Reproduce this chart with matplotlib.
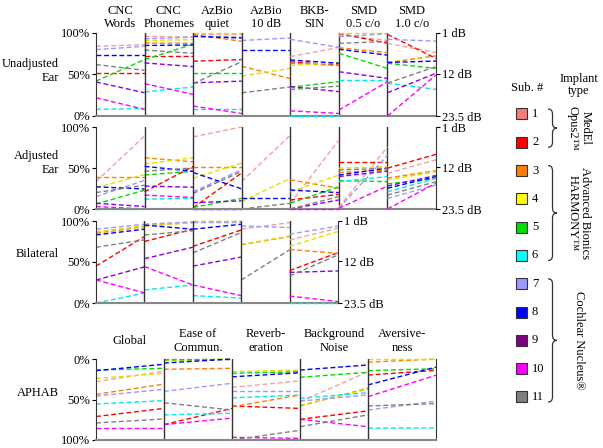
import matplotlib.pyplot as plt
import numpy as np
from matplotlib.path import Path
from matplotlib.patches import PathPatch, Rectangle

plt.rcParams['font.family'] = ['Liberation Serif', 'DejaVu Serif']
plt.rcParams['font.size'] = 9

N = np.nan
W, H = 603, 448
FS = 9

# subject colours (1..11)
line_colors = ['#F4A0A0', '#FF0000', '#FF8000', '#E0E000', '#00DD00', '#00E8E8',
               '#9999FF', '#0000FF', '#8A00E6', '#FF00FF', '#808080']
box_colors = ['#F47C7C', '#FF0000', '#FF8000', '#FFFF00', '#00DD00', '#00FFFF',
              '#9999FF', '#0000FF', '#800080', '#FF00FF', '#808080']
subjects = [str(i) for i in range(1, 12)]

speech_tests = ['CNC\nWords', 'CNC\nPhonemes', 'AzBio\nquiet', 'AzBio\n10 dB',
                'BKB-\nSIN', 'SMD\n0.5 c/o', 'SMD\n1.0 c/o']
aphab_tests = ['Global', 'Ease of\nCommun.', 'Reverb-\neration', 'Background\nNoise', 'Aversive-\nness']
implants = ['MedEl\nOpus2\u2122', 'Advanced Bionics\nHARMONY\u2122', 'Cochlear Nucleus\u00ae']
implant_groups = [(1, 2), (3, 6), (7, 11)]

# values per test (rows) and subject (columns 1..11); % for first 4 tests, dB for BKB-SIN / SMD
unadj_pre = [
    [84, 52, N, N, 42, 8, 80, 73.5, 41, 22, 62],
    [96, 72, 88, 91, 68, 29, 93, 85, 64, 39, 79.5],
    [99, 66, 98, 100, 52, 9, 96, 96, 40, 12, 39],
    [N, N, 60, 48, N, N, 91, 79, N, N, 28],
    [7.4, 8.8, 9.2, 9.8, 15.7, 23.5, 2.7, 8.3, 15.5, 22.1, 16.3],
    [1.5, 1.1, 5.0, 1.0, 6.5, 13.7, 2.0, 5.4, 11.5, 21.9, 3.8],
    [3.8, 1.35, 9.0, N, 9.2, 14.6, 2.7, 9.0, 17.2, 23.5, 14.6],
]
unadj_post = [
    [86, 52, N, N, 68, 9, 84, 73.5, 28, 8, 55],
    [95, 72, 87.5, 92, 86.5, 35, 95, 85.5, 59.5, 26, 75.5],
    [99, 68, 90, 100, 52, 9, 95, 94, 42, 3, 65.5],
    [N, N, 45, 57.5, N, N, 94, 79, N, N, 35],
    [4.9, 9.7, 9.8, 9.0, 14.2, 23.5, 4.9, 9.2, 16.9, 22.8, 15.4],
    [3.0, 3.8, 6.3, 1.0, 10.6, 13.7, 1.2, 7.0, 13.3, 14.2, 3.3],
    [6.3, 7.9, 7.2, N, 10.6, 16.3, 3.2, 8.6, 11.9, 12.4, 10.1],
]

adj_pre = [
    [33.5, N, 39.5, 26, 6, 0, 15, 27, 7, 3, 20],
    [N, 21, 62.5, 55, 41.5, 12, N, 52, 28, 17, 46],
    [88, 1.5, 51, 37.5, 2, 0, 21, 44.5, 7.7, 0, 19],
    [33.5, N, N, 9, N, N, N, 13, N, N, 0],
    [22, 21, 15.5, 18.8, 21.9, N, N, 18.3, 23.5, 23.5, 23.5],
    [23, 10.7, 13.5, 12.3, 15.7, 16, 23.3, 14.2, 14.6, 23.3, 12.8],
    [13.7, 12.3, 15, 15.5, 16.6, 18.8, 20.6, 17.8, 17.2, 23.5, 19.7],
]
adj_post = [
    [89, N, 39.5, 42, 23, 0, 35, 24.4, 3, 0, 29],
    [N, 52, 57.5, 62.5, 46, 13, N, 46, 26.5, 14, 50],
    [100, 44, 51, 56, 13, 0, 48, 24.5, 10, 0, 46],
    [90, N, N, 37.5, N, N, N, 13, N, N, 7],
    [4.6, 19.5, 17.8, 14.2, 17.4, N, N, 19, 21, 23.5, 20.1],
    [6.5, 10.7, 12.8, 11.9, 16.0, 14.6, 8.8, 12.3, 13.1, 17.2, 12.3],
    [10, 8.5, 13, 13.3, 15.1, 15.1, 16.9, 14.6, 14.3, 16.4, 16],
]

bilat_pre = [
    [N, 45, 85, 87, N, 0, 90, 83, 28, 28, 68],
    [N, 75, 94, 94, N, 16, 96, 95, 54, 44.5, 83],
    [N, 69, 100, 100, N, 9, 99, 90, 45, 22, 61],
    [90, N, 71, 71.5, N, N, 94, N, N, N, 28],
    [6.2, 14.6, 8.8, 7.9, N, 23.5, 4.6, N, 15.1, 21.6, 16.1],
]
bilat_post = [
    [N, 81, 93, 94, N, 12, 96, 90, 44, 12.5, 77],
    [N, 90, 98, 98, N, 22, 99, 90, 68, 22, 88],
    [N, 89, 100, 100, N, 6, 99, 96, 56, 9, 86],
    [98, N, 81, 81.5, N, N, 92, N, N, N, 65],
    [3.0, 9.7, 9.9, 3.9, N, 23.5, 2.4, N, 14.7, 23.1, 10.3],
]

aphab_pre = [
    [28, 71, 43.6, 24, 13.6, 55.6, 45.7, 14.4, N, 85, 79],
    [0, 81, 12.7, 2, 1, 69, 40, 5, N, 81, 54],
    [35, 58, 59, 15.6, 17.7, 48, 39.5, 22, N, 96.7, 100],
    [52.7, 74.5, 58, 57, 22.6, 48.5, 52, 13.6, N, 74.5, 83.6],
    [N, 19.8, 4, 0, 14.4, 85.5, 63, 32, N, 46.5, 58],
]
aphab_post = [
    [15, 61, 31, 17.7, 11.5, 51.4, 37.4, 6.5, N, 85, 74],
    [0, 61, 11.5, 1, 0.5, 67, 30, 0, N, 73, 63],
    [27, 61, 44.5, 13.6, 15.6, 44.5, 39.5, 17, N, 98, 88],
    [15.7, 64, 36, 37.4, 16.4, 41.6, 44.4, 7.4, N, 83.6, 69],
    [N, 14, 0, 0, 12, 85, 52, 10, N, 20, 55],
]

fig = plt.figure(figsize=(W / 100, H / 100), dpi=100)


def px_axes(x0, y0, x1, y1):
    return fig.add_axes([x0 / W, 1 - y1 / H, (x1 - x0) / W, (y1 - y0) / H])


def draw_panel(ax, pre, post, db_cols, invert=False):
    ncols = len(pre)
    ax.set_xlim(0, ncols)
    if invert:
        ax.set_ylim(100, 0)
    else:
        ax.set_ylim(0, 100)
    ax.patch.set_alpha(0)
    ax2 = None
    if db_cols:
        ax2 = ax.twinx()
        ax2.set_ylim(23.5, 1)
        for sp in ['top', 'left', 'bottom']:
            ax2.spines[sp].set_visible(False)
        ax2.spines['right'].set_color('#333333')
        ax2.set_yticks([1, 12, 23.5])
        ax2.set_yticklabels(['1 dB', '12 dB', '23.5 dB'])
        ax2.tick_params(axis='y', length=3, pad=1, labelsize=FS)
        ax.spines['right'].set_visible(False)
    else:
        ax.spines['right'].set_color('#333333')
    for c in range(ncols):
        target = ax2 if c in db_cols else ax
        for s in range(len(subjects)):
            a, b = pre[c][s], post[c][s]
            if np.isnan(a) or np.isnan(b):
                continue
            target.plot([c, c + 1], [a, b], color=line_colors[s], lw=1.0,
                        ls=(0, (3.5, 2)), clip_on=False)
    for c in range(1, ncols):
        ax.axvline(c, color='#333333', lw=1)
    ax.spines['top'].set_visible(False)
    ax.spines['left'].set_color('#333333')
    ax.spines['bottom'].set_color('#888888')
    ax.spines['bottom'].set_linewidth(1.5)
    ax.set_xticks([])
    ax.set_yticks([0, 50, 100])
    ax.set_yticklabels(['0%', '50%', '100%'])
    ax.tick_params(axis='y', length=3, pad=1, labelsize=FS)
    return ax2


ax1 = px_axes(96, 33, 436, 116)
draw_panel(ax1, unadj_pre, unadj_post, [4, 5, 6])
ax2 = px_axes(96, 127, 436, 209)
draw_panel(ax2, adj_pre, adj_post, [4, 5, 6])
ax3 = px_axes(96, 221, 338, 303)
draw_panel(ax3, bilat_pre, bilat_post, [4])
ax4 = px_axes(96, 359, 436, 440)
draw_panel(ax4, aphab_pre, aphab_post, [], invert=True)

# overlay in pixel coordinates for titles and legend
lax = fig.add_axes([0, 0, 1, 1])
lax.set_xlim(0, W)
lax.set_ylim(H, 0)
lax.axis('off')

colw = 340 / 7
for i, t in enumerate(speech_tests):
    lax.text(96 + (i + 0.5) * colw, 30, t, ha='center', va='bottom', fontsize=FS,
             multialignment='center', linespacing=1.15)
colw2 = 340 / 5
for i, t in enumerate(aphab_tests):
    lax.text(96 + (i + 0.5) * colw2, 341, t, ha='center', va='center', fontsize=FS,
             multialignment='center', linespacing=1.15)

row_labels = [('Unadjusted\nEar', 71), ('Adjusted\nEar', 163), ('Bilateral', 254), ('APHAB', 393)]
for t, y in row_labels:
    lax.text(59, y, t, ha='right', va='center', fontsize=FS, multialignment='right',
             linespacing=1.25)

# legend
lax.text(527, 88, 'Sub. #', ha='center', va='center', fontsize=FS)
lax.text(579, 85, 'Implant\ntype', ha='center', va='center', fontsize=FS,
         multialignment='center', linespacing=1.1)
ys = [114 + 28.3 * i for i in range(11)]
for i, s in enumerate(subjects):
    lax.add_patch(Rectangle((516, ys[i] - 5.5), 11, 11, facecolor=box_colors[i],
                            edgecolor='#333333', lw=0.8))
    lax.text(532, ys[i], s, ha='left', va='center', fontsize=FS)


def brace(x, y0, y1, w=9, r=5):
    ym = (y0 + y1) / 2
    xm = x + w / 2
    verts = [(x, y0), (xm, y0), (xm, y0 + r), (xm, ym - r), (xm, ym), (x + w, ym),
             (x, y1), (xm, y1), (xm, y1 - r), (xm, ym + r), (xm, ym), (x + w, ym)]
    codes = [Path.MOVETO, Path.CURVE3, Path.CURVE3, Path.LINETO, Path.CURVE3, Path.CURVE3] * 2
    lax.add_patch(PathPatch(Path(verts, codes), facecolor='none', edgecolor='#333333', lw=0.9))


label_x = 579
for (g0, g1), name in zip(implant_groups, implants):
    y0 = ys[g0 - 1] - 5
    y1 = ys[g1 - 1] + 5
    brace(548, y0, y1)
    lax.text(label_x, (y0 + y1) / 2, name, rotation=-90, ha='center', va='center',
             fontsize=FS, multialignment='center', linespacing=1.1)

fig.savefig('out.png', dpi=100)
